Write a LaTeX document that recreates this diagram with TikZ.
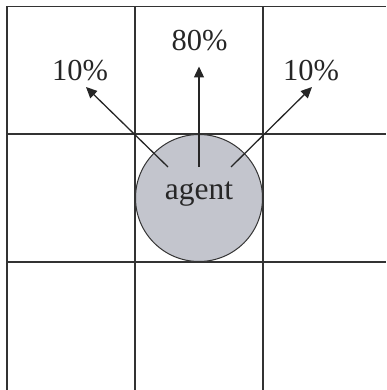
\documentclass[tikz,border=0pt]{standalone}
\usepackage{fontspec}
\setmainfont{Liberation Serif}
\usetikzlibrary{arrows.meta,calc}
\definecolor{gridline}{HTML}{333333}
\definecolor{inkgray}{HTML}{262626}
\definecolor{agentfill}{HTML}{C3C5CD}
\begin{document}
\begin{tikzpicture}[x=1pt,y=-1pt,
  gridrule/.style={draw=gridline,line width=1.4pt},
  agentdisk/.style={circle,draw=gridline,line width=1pt,fill=agentfill,
    minimum size=127pt,inner sep=0pt},
  agentword/.style={font=\fontsize{31.5}{38}\selectfont,text=inkgray,inner sep=0pt},
  prob/.style={font=\fontsize{30.5}{37}\selectfont,text=inkgray,inner sep=0pt},
  move/.style={draw=inkgray,line width=1.3pt,-{Triangle[length=11pt,width=10pt]}}]
\useasboundingbox (0,0) rectangle (386,390);

% 3x3 grid of cells (outer right and bottom edges fall outside the page)
\foreach \x in {7,135,263} \draw[gridrule] (\x,6.5) -- (\x,390);
\foreach \y in {6.5,134,262} \draw[gridrule] (7,\y) -- (386,\y);

% the agent in the centre cell
\node[agentdisk] (agent) at (199,198) {};
\node[agentword] (agentname) at (199,194.5) {agent};

% outcome probabilities
\node[prob] (pleft)  at (80,71)  {10\%};
\node[prob] (pup)    at (199.5,41) {80\%};
\node[prob] (pright) at (311,71) {10\%};

% start and end points of the moves
\coordinate (fromleft)  at ($(agent.center)+(-31,-31)$);
\coordinate (fromup)    at ($(agent.center)+(0,-31)$);
\coordinate (fromright) at ($(agent.center)+(32,-31)$);
\coordinate (toleft)  at (86,87);
\coordinate (toup)    at (199,66.5);
\coordinate (toright) at (312,87);

\draw[move] (fromleft) -- (toleft);
\draw[move] (fromup) -- (toup);
\draw[move] (fromright) -- (toright);
\end{tikzpicture}
\end{document}
